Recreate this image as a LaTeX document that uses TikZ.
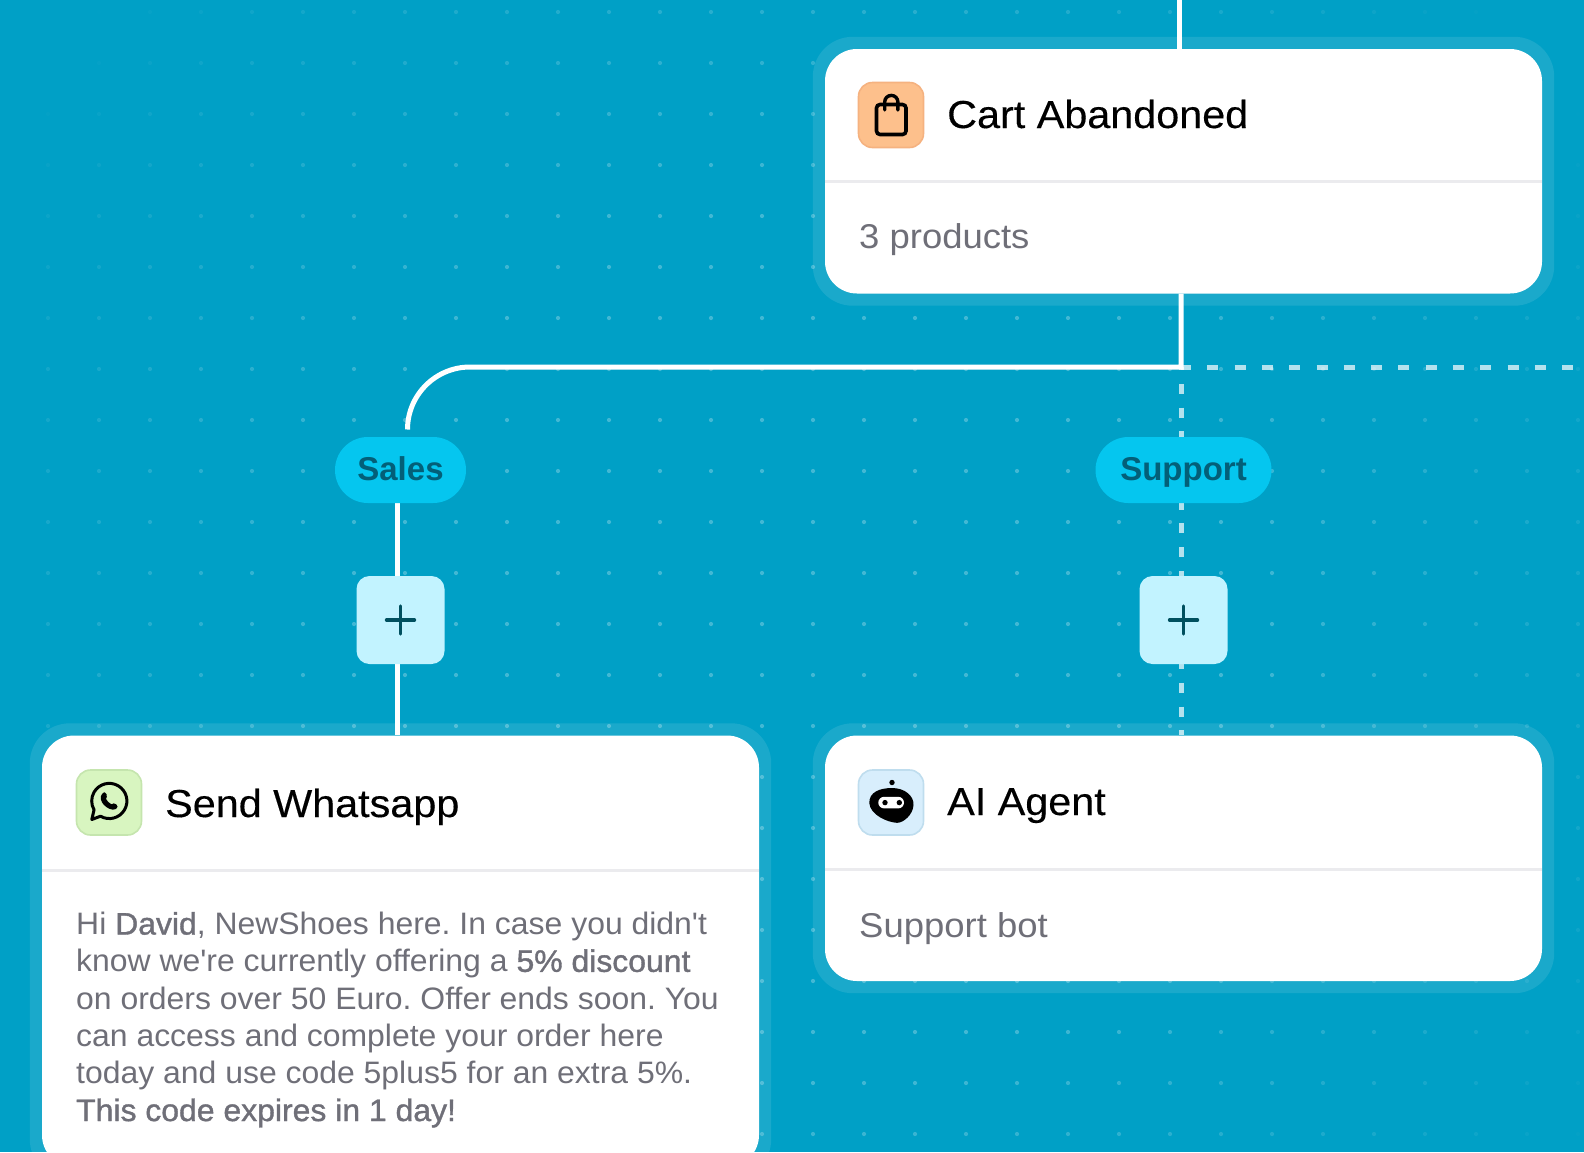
\documentclass[tikz,border=0pt]{standalone}
\usepackage{fontspec}
\setmainfont[FakeStretch=1.06]{Liberation Sans}
\newfontfamily\bodyfont[FakeStretch=1.03,BoldFont={Liberation Sans},BoldFeatures={FakeBold=1.2,FakeStretch=1.03}]{Liberation Sans}
\newfontfamily\titlefont[FakeStretch=1.06,FakeBold=0.3]{Liberation Sans}
\newfontfamily\pillfont[FakeStretch=1.0]{Liberation Sans Bold}
\usetikzlibrary{calc}
\pgfdeclarelayer{under}
\pgfsetlayers{under,main}
\definecolor{bgblue}{HTML}{00A0C6}
\definecolor{pillblue}{HTML}{05C6EF}
\definecolor{pilltext}{HTML}{035F78}
\definecolor{plusfill}{HTML}{C2F3FF}
\definecolor{plusink}{HTML}{00505F}
\definecolor{greytext}{HTML}{6F6F78}
\definecolor{rule}{HTML}{EBEBEE}
\definecolor{bagfill}{HTML}{FDC08C}
\definecolor{bagline}{HTML}{F5B280}
\definecolor{wappfill}{HTML}{D8F5C0}
\definecolor{wappline}{HTML}{C5E5AE}
\definecolor{botfill}{HTML}{D8EEFC}
\definecolor{botline}{HTML}{BFDDEE}
\tikzset{
  card/.style={fill=white,rounded corners=32pt,inner sep=0pt,minimum width=717pt},
  halo/.style={fill=white,fill opacity=.1,rounded corners=40pt},
  iconbox/.style={rounded corners=14pt,line width=1.6pt,inner sep=0pt,minimum width=65pt,minimum height=65pt},
  title/.style={anchor=base west,inner sep=0pt,text=black,font=\fontsize{39}{39}\titlefont},
  sub/.style={anchor=base west,inner sep=0pt,text=greytext,font=\fontsize{34.4}{34.4}\selectfont},
  pill/.style={fill=pillblue,text=pilltext,rounded corners=32.9pt,inner sep=0pt,text height=28pt,text depth=7.4pt,minimum height=66pt,font=\fontsize{33}{33}\pillfont},
  plusbox/.style={fill=plusfill,rounded corners=13pt,inner sep=0pt,minimum width=88pt,minimum height=88pt},
  solidlink/.style={draw=white,line width=5pt},
  dashv/.style={draw=white,draw opacity=.7,line width=5pt,dash pattern=on 10pt off 13.7pt},
  dashh/.style={draw=white,draw opacity=.7,line width=5pt,dash pattern=on 11pt off 16.3pt},
}
\begin{document}
\begin{tikzpicture}[x=1pt,y=-1pt]
\useasboundingbox (0,0) rectangle (1584,1152);
\clip (0,0) rectangle (1584,1152);
% cards
\node[card,minimum height=244.5pt] (cart) at (1183.5,171.25) {};
\node[card,minimum height=245.5pt] (agent) at (1183.5,858.25) {};
\node[card,minimum height=431.5pt] (whats) at (400.5,951.25) {};
\draw[rule,line width=3pt] (cart.west |- 0,181) -- (cart.east |- 0,181);
\draw[rule,line width=3pt] (agent.west |- 0,869) -- (agent.east |- 0,869);
\draw[rule,line width=3pt] (whats.west |- 0,870) -- (whats.east |- 0,870);
% pills and plus boxes
\node[pill,minimum width=131pt] (sales) at (400.5,470) {Sales};
\node[pill,minimum width=176pt] (support) at (1183.5,470) {Support};
\node[plusbox] (plusa) at (400.5,620) {};
\node[plusbox] (plusb) at (1183.5,620) {};
\foreach \n in {plusa,plusb}{
  \draw[plusink,line width=3.4pt,line cap=round] ($(\n.center)+(-14,0)$) -- ($(\n.center)+(14,0)$);
  \draw[plusink,line width=3.4pt,line cap=round] ($(\n.center)+(0,-14)$) -- ($(\n.center)+(0,14)$);
}
% icon boxes
\node[iconbox,fill=bagfill,draw=bagline] (bagicon) at (891,115) {};
\node[iconbox,fill=wappfill,draw=wappline] (wappicon) at (109,802.5) {};
\node[iconbox,fill=botfill,draw=botline] (boticon) at (891,802.5) {};
% bag glyph
\draw[black,line width=3.6pt,rounded corners=3.5pt] (876.5,104.5) rectangle (906,134.5);
\draw[black,line width=3.4pt,line cap=round] (884.7,110) -- (884.7,102) arc[start angle=180,end angle=360,radius=6.6] -- (897.9,110);
% whatsapp glyph
\draw[black,line width=3pt,line join=round] (100.5,816.2) arc[start angle=120,delta angle=-330,radius=17.6] -- (91.8,819.5) -- cycle;
\fill[black] (102,794) .. controls (104,791.5) and (106,792) .. (106.5,794) .. controls (107,796.5) and (107,797.5) .. (106,799) .. controls (107.5,801.5) and (109,803) .. (111.5,804.3) .. controls (113,803) and (114.5,803) .. (116.5,804.5) .. controls (118,806) and (118,807.5) .. (116,809) .. controls (112,811) and (107,808) .. (104,805) .. controls (101,802) and (99.5,797) .. (102,794) -- cycle;
% robot glyph
\fill[black] (892,782.5) circle[radius=2.7];
\fill[black] (869.3,803) .. controls (869,792) and (880,788) .. (892,788) .. controls (905,788) and (914,796) .. (913.5,805) .. controls (913,815) and (903,823) .. (897,822.8) .. controls (888,822.5) and (870,815) .. (869.3,803) -- cycle;
\fill[white,rounded corners=5.8pt] (878.3,796.8) rectangle (904,808.4);
\fill[black] (885,802.6) circle[radius=2.7];
\fill[black] (899.3,802.6) circle[radius=2.7];
% texts
\node[title] (t1) at (947,128) {Cart Abandoned};
\node[sub] (t2) at (859,248) {3 products};
\node[title] (t3) at (165,817) {Send Whatsapp};
\node[title] (t4) at (947,815) {AI Agent};
\node[sub] (t5) at (859,937) {Support bot};
\node[anchor=base west,inner sep=0pt,text=greytext,align=left,font=\fontsize{31}{37.3}\bodyfont\frenchspacing] (body) at (76,1121) {Hi \textbf{David}, NewShoes here. In case you didn't\\know we're currently offering a \textbf{5\% discount}\\on orders over 50 Euro. Offer ends soon. You\\can access and complete your order here\\today and use code 5plus5 for an extra 5\%.\\\textbf{This code expires in 1 day!}};
% background layer
\begin{pgfonlayer}{under}
\clip (0,0) rectangle (1584,1152);
\fill[bgblue] (0,0) rectangle (1584,1152);
\foreach \ix in {0,...,30}{
  \foreach \iy in {0,...,22}{
    \pgfmathsetmacro{\px}{48+51*\ix}
    \pgfmathsetmacro{\py}{12+51*\iy}
    \pgfmathsetmacro{\dd}{veclen(\px-800,\py-640)}
    \pgfmathsetmacro{\op}{max(0,min(.26,(950-\dd)/2000))}
    \fill[white,fill opacity=\op] (\px,\py) circle[radius=2.1];
  }
}
\fill[halo] ([shift={(-12,-12)}]cart.north west) rectangle ([shift={(12,12)}]cart.south east);
\fill[halo] ([shift={(-12,-12)}]agent.north west) rectangle ([shift={(12,12)}]agent.south east);
\fill[halo] ([shift={(-12,-12)}]whats.north west) rectangle ([shift={(12,12)}]whats.south east);
\coordinate (top) at (1179,0);
\coordinate (junction) at (1181,367);
\coordinate (right) at (1584,367);
\coordinate (salesdrop) at (397.5,470);
\draw[solidlink] (top) -- (top |- cart.north);
\draw[dashh,dash phase=1pt] (junction) -- (right);
\draw[dashv,dash phase=6.7pt] (junction) -- (junction |- support.north);
\draw[dashv,dash phase=3.5pt] (junction |- support.south) -- (junction |- plusb.north);
\draw[dashv,dash phase=5pt] (junction |- plusb.south) -- (junction |- agent.north);
\draw[solidlink] (junction |- cart.south) -- (junction) -- (470,367) arc[start angle=270,end angle=180,radius=62.5];
\draw[solidlink] (salesdrop |- sales.south) -- (salesdrop |- plusa.north);
\draw[solidlink] (salesdrop |- plusa.south) -- (salesdrop |- whats.north);
\end{pgfonlayer}
\end{tikzpicture}
\end{document}
